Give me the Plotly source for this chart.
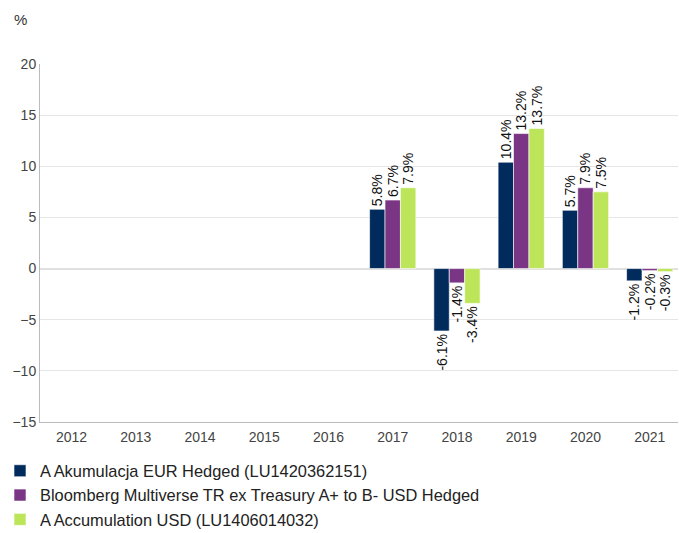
import plotly.graph_objects as go

years = ["2012", "2013", "2014", "2015", "2016", "2017", "2018", "2019", "2020", "2021"]
eur_hedged = [None, None, None, None, None, 5.8, -6.1, 10.4, 5.7, -1.2]
bloomberg = [None, None, None, None, None, 6.7, -1.4, 13.2, 7.9, -0.2]
usd_acc = [None, None, None, None, None, 7.9, -3.4, 13.7, 7.5, -0.3]

series_names = [
    "A Akumulacja EUR Hedged (LU1420362151)",
    "Bloomberg Multiverse TR ex Treasury A+ to B- USD Hedged",
    "A Accumulation USD (LU1406014032)",
]
colors = ["#002B5C", "#7B3585", "#BDE55A"]
y_ticks = [-15, -10, -5, 0, 5, 10, 15, 20]

fig = go.Figure()
for name, vals, col in zip(series_names, [eur_hedged, bloomberg, usd_acc], colors):
    fig.add_trace(go.Bar(
        x=years, y=vals, name=name,
        marker=dict(color=col, line=dict(color="#ffffff", width=0.6)),
        text=[None if v is None else f"{v:.1f}%" for v in vals],
        textposition="outside", textangle=-90,
        textfont=dict(size=14, color="#111111", family="Liberation Sans, Arial, sans-serif"),
        cliponaxis=False,
    ))

fig.update_layout(
    width=679, height=533,
    margin=dict(l=40, r=1, t=64, b=111, autoexpand=False),
    paper_bgcolor="white", plot_bgcolor="white",
    barmode="group", bargap=0.28, bargroupgap=0,
    font=dict(family="Liberation Sans, Arial, sans-serif", color="#333333"),
    uniformtext=dict(mode="show", minsize=14),
    legend=dict(
        orientation="v", xref="container", x=0.0, xanchor="left",
        yref="container", y=0.149, yanchor="top",
        font=dict(size=16.4, color="#222222"), tracegroupgap=0, itemwidth=30,
        traceorder="normal",
    ),
    xaxis=dict(
        type="category", range=[-0.49, 9.44], showgrid=False, showline=True,
        linecolor="#bbbbbb", linewidth=1,
        ticks="", tickfont=dict(size=14, color="#444444"), automargin=False,
        ticklabelstandoff=2,
    ),
    yaxis=dict(
        range=[-15, 20], tickvals=y_ticks, showgrid=True, gridcolor="#e6e6e6", gridwidth=1,
        zeroline=True, zerolinecolor="#e0e0e0", zerolinewidth=2,
        showline=True, linecolor="#bbbbbb", linewidth=1, ticks="",
        tickfont=dict(size=14, color="#444444"), automargin=False,
    ),
    annotations=[dict(
        text="%", xref="paper", yref="paper", x=-0.044, y=1.123,
        xanchor="left", yanchor="middle", showarrow=False,
        font=dict(size=15, color="#333333"),
    )],
)

fig.write_html("out.html", config={"displayModeBar": False},
               post_script="document.body.style.margin='0';")
